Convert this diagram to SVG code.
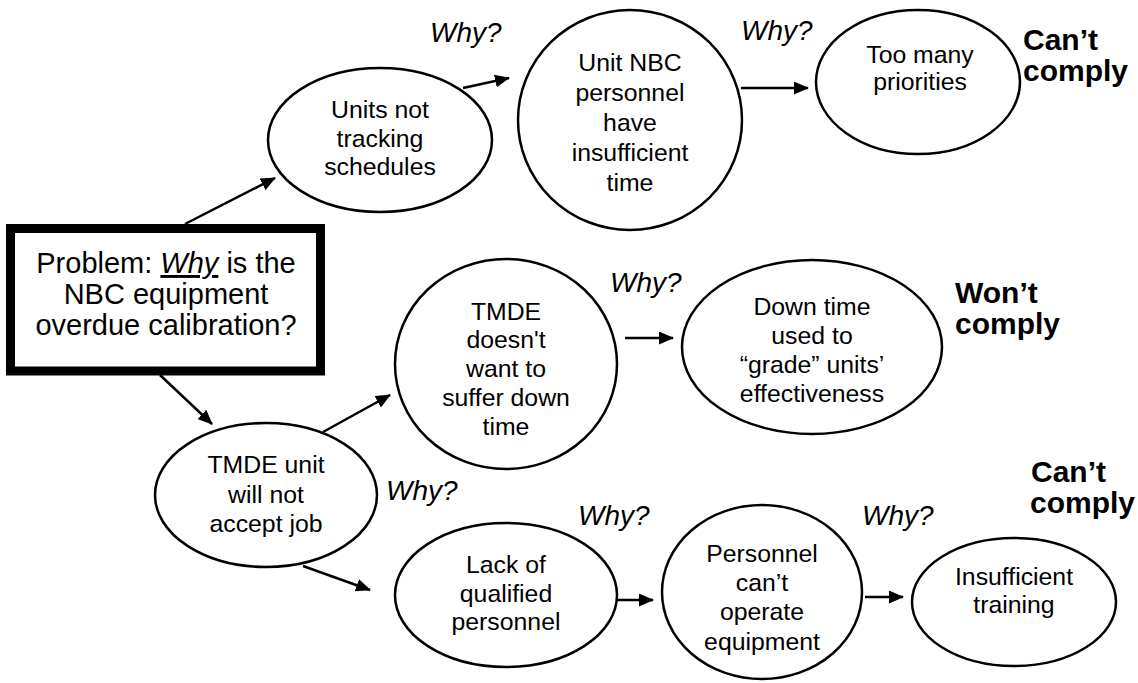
<svg xmlns="http://www.w3.org/2000/svg" width="1138" height="683" viewBox="0 0 1138 683">
<style>
.n{fill:#fff;stroke:#000;stroke-width:2.5}
.t{font-family:"Liberation Sans",Arial,sans-serif;font-size:24.8px;fill:#000;text-anchor:middle}
.w{font-family:"Liberation Sans",Arial,sans-serif;font-size:28px;font-style:italic;fill:#000}
.b{font-family:"Liberation Sans",Arial,sans-serif;font-size:30px;font-weight:bold;fill:#000}
.p{font-family:"Liberation Sans",Arial,sans-serif;font-size:29px;fill:#000;text-anchor:middle}
.c{stroke:#000;stroke-width:2.5;fill:none;marker-end:url(#ah)}
</style>
<defs>
<marker id="ah" markerUnits="userSpaceOnUse" markerWidth="15" markerHeight="13" refX="14" refY="6.5" orient="auto" viewBox="0 0 15 13">
<path d="M0,0 L15,6.5 L0,13 z" fill="#000"/>
</marker>
</defs>
<rect width="1138" height="683" fill="#fff"/>
<g id="connectors">
<line class="c" x1="185" y1="224" x2="275" y2="178"/>
<line class="c" x1="463" y1="88" x2="509" y2="78"/>
<line class="c" x1="741" y1="88" x2="808" y2="88"/>
<line class="c" x1="160" y1="375" x2="212" y2="424"/>
<line class="c" x1="323" y1="432" x2="390" y2="395"/>
<line class="c" x1="625" y1="338" x2="673" y2="338"/>
<line class="c" x1="303" y1="566" x2="370" y2="590"/>
<line class="c" x1="617" y1="600" x2="653" y2="600"/>
<line class="c" x1="865" y1="597" x2="903" y2="597"/>
</g>
<g id="problem">
<rect x="10.5" y="228.5" width="310" height="142.5" fill="#fff" stroke="#000" stroke-width="9"/>
<text class="p" x="166" y="273">Problem: <tspan font-style="italic" text-decoration="underline">Why</tspan> is the</text>
<text class="p" x="166" y="304">NBC equipment</text>
<text class="p" x="166" y="335">overdue calibration?</text>
</g>
<g id="n1">
<ellipse class="n" cx="380" cy="140" rx="112" ry="72"/>
<text class="t" x="380" y="118">Units not</text>
<text class="t" x="380" y="147">tracking</text>
<text class="t" x="380" y="175">schedules</text>
</g>
<g id="n2">
<ellipse class="n" cx="630" cy="120" rx="112" ry="110"/>
<text class="t" x="630" y="71">Unit NBC</text>
<text class="t" x="630" y="101">personnel</text>
<text class="t" x="630" y="131">have</text>
<text class="t" x="630" y="161">insufficient</text>
<text class="t" x="630" y="191">time</text>
</g>
<g id="n3">
<ellipse class="n" cx="918" cy="82" rx="102" ry="72"/>
<text class="t" x="920" y="63">Too many</text>
<text class="t" x="920" y="90">priorities</text>
</g>
<g id="n4">
<ellipse class="n" cx="506" cy="364" rx="111" ry="105"/>
<text class="t" x="506" y="320">TMDE</text>
<text class="t" x="506" y="348">doesn't</text>
<text class="t" x="506" y="377">want to</text>
<text class="t" x="506" y="406">suffer down</text>
<text class="t" x="506" y="435">time</text>
</g>
<g id="n5">
<ellipse class="n" cx="812" cy="347" rx="130" ry="87"/>
<text class="t" x="812" y="315">Down time</text>
<text class="t" x="812" y="344">used to</text>
<text class="t" x="812" y="373">“grade” units’</text>
<text class="t" x="812" y="402">effectiveness</text>
</g>
<g id="n6">
<ellipse class="n" cx="266" cy="495" rx="111" ry="72"/>
<text class="t" x="266" y="473">TMDE unit</text>
<text class="t" x="266" y="503">will not</text>
<text class="t" x="266" y="532">accept job</text>
</g>
<g id="n7">
<ellipse class="n" cx="506" cy="595" rx="111" ry="72"/>
<text class="t" x="506" y="573">Lack of</text>
<text class="t" x="506" y="602">qualified</text>
<text class="t" x="506" y="630">personnel</text>
</g>
<g id="n8">
<ellipse class="n" cx="762" cy="592" rx="100" ry="87"/>
<text class="t" x="762" y="562">Personnel</text>
<text class="t" x="762" y="591">can’t</text>
<text class="t" x="762" y="620">operate</text>
<text class="t" x="762" y="650">equipment</text>
</g>
<g id="n9">
<ellipse class="n" cx="1014" cy="602" rx="102" ry="64"/>
<text class="t" x="1014" y="585">Insufficient</text>
<text class="t" x="1014" y="613">training</text>
</g>
<g id="labels">
<text class="w" x="430" y="42">Why?</text>
<text class="w" x="741" y="40">Why?</text>
<text class="w" x="610" y="292">Why?</text>
<text class="w" x="386" y="500">Why?</text>
<text class="w" x="578" y="525">Why?</text>
<text class="w" x="862" y="525">Why?</text>
<text class="b" x="1023" y="50">Can’t</text>
<text class="b" x="1023" y="81">comply</text>
<text class="b" x="955" y="303">Won’t</text>
<text class="b" x="955" y="334">comply</text>
<text class="b" x="1031" y="482">Can’t</text>
<text class="b" x="1030" y="513">comply</text>
</g>
</svg>
